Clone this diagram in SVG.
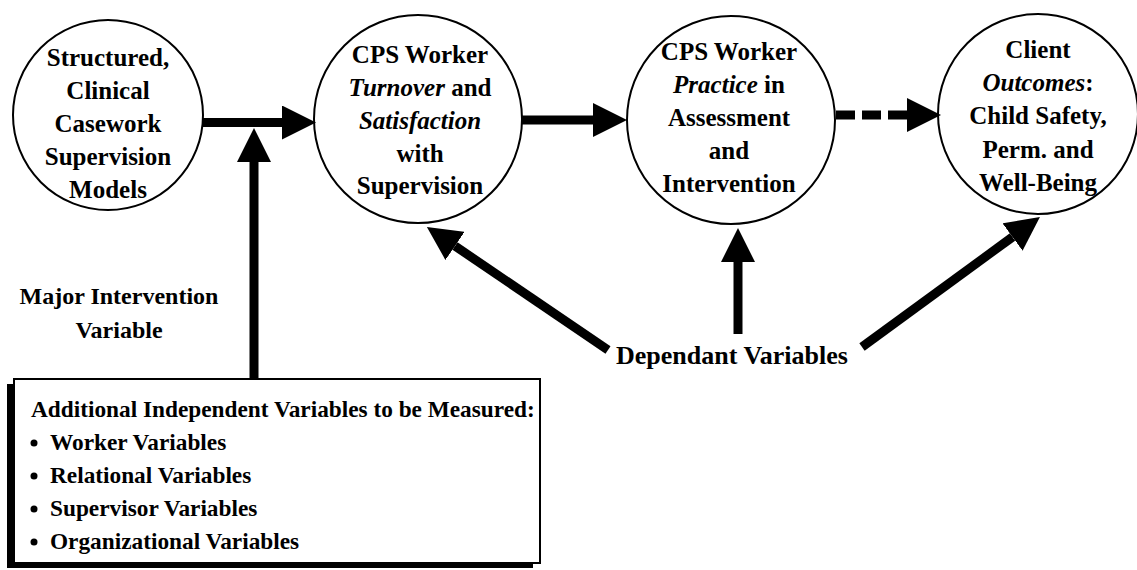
<svg xmlns="http://www.w3.org/2000/svg" width="1137" height="570" viewBox="0 0 1137 570" font-family="'Liberation Serif', 'Times New Roman', 'DejaVu Serif', serif" font-weight="bold">
<style>
.c{font-size:25px;text-anchor:middle}
.i{font-style:italic}
.lbl{font-size:24px;text-anchor:middle}
.dep{font-size:26px;text-anchor:middle}
.bx{font-size:23.3px}
.node{fill:#fff;stroke:#000;stroke-width:2}
.arr{stroke:#000;stroke-width:9;fill:none;marker-end:url(#head)}
</style>
<defs>
<marker id="head" markerUnits="userSpaceOnUse" markerWidth="34" markerHeight="34" viewBox="0 0 34 34" refX="0" refY="17" orient="auto">
<path d="M0,0 L34,17 L0,34 z" fill="#000"/>
</marker>
</defs>
<rect width="1137" height="570" fill="#fff"/>
<g id="n1">
<circle class="node" cx="108" cy="115" r="95"/>
<text class="c" x="108" y="66">Structured,</text>
<text class="c" x="108" y="99">Clinical</text>
<text class="c" x="108" y="132">Casework</text>
<text class="c" x="108" y="165">Supervision</text>
<text class="c" x="108" y="198">Models</text>
</g>
<g id="n2">
<circle class="node" cx="418" cy="119" r="104"/>
<text class="c" x="420" y="63">CPS Worker</text>
<text class="c" x="420" y="96"><tspan class="i">Turnover</tspan> and</text>
<text class="c i" x="420" y="129">Satisfaction</text>
<text class="c" x="420" y="162">with</text>
<text class="c" x="420" y="194">Supervision</text>
</g>
<g id="n3">
<circle class="node" cx="731" cy="120" r="104"/>
<text class="c" x="729" y="60">CPS Worker</text>
<text class="c" x="729" y="93"><tspan class="i">Practice</tspan> in</text>
<text class="c" x="729" y="126">Assessment</text>
<text class="c" x="729" y="159">and</text>
<text class="c" x="729" y="192">Intervention</text>
</g>
<g id="n4">
<circle class="node" cx="1038" cy="114" r="100"/>
<text class="c" x="1038" y="58">Client</text>
<text class="c" x="1038" y="91"><tspan class="i">Outcomes</tspan>:</text>
<text class="c" x="1038" y="124">Child Safety,</text>
<text class="c" x="1038" y="158">Perm. and</text>
<text class="c" x="1038" y="191">Well-Being</text>
</g>
<g id="connectors">
<line class="arr" x1="203" y1="122.5" x2="282" y2="122.5"/>
<line class="arr" x1="521" y1="120" x2="593" y2="120"/>
<line class="arr" x1="836" y1="115" x2="907" y2="115" stroke-dasharray="19 7"/>
<line class="arr" x1="254" y1="378" x2="254" y2="162"/>
<line class="arr" x1="608" y1="350" x2="455" y2="246"/>
<line class="arr" x1="738" y1="334" x2="738" y2="262"/>
<line class="arr" x1="862" y1="347" x2="1012.5" y2="237"/>
</g>
<g id="label-major">
<text class="lbl" x="119" y="304">Major Intervention</text>
<text class="lbl" x="119" y="338">Variable</text>
</g>
<g id="label-dependant">
<text class="dep" x="732" y="364">Dependant Variables</text>
</g>
<g id="box">
<rect x="7" y="384" width="526" height="184" fill="#000"/>
<rect x="14" y="379" width="526" height="184" fill="#fff" stroke="#000" stroke-width="2"/>
<text class="bx" x="31" y="417">Additional Independent Variables to be Measured:</text>
<circle cx="34" cy="443" r="3.5"/>
<text class="bx" x="50" y="450">Worker Variables</text>
<circle cx="34" cy="476" r="3.5"/>
<text class="bx" x="50" y="483">Relational Variables</text>
<circle cx="34" cy="509" r="3.5"/>
<text class="bx" x="50" y="516">Supervisor Variables</text>
<circle cx="34" cy="542" r="3.5"/>
<text class="bx" x="50" y="549">Organizational Variables</text>
</g>
</svg>
